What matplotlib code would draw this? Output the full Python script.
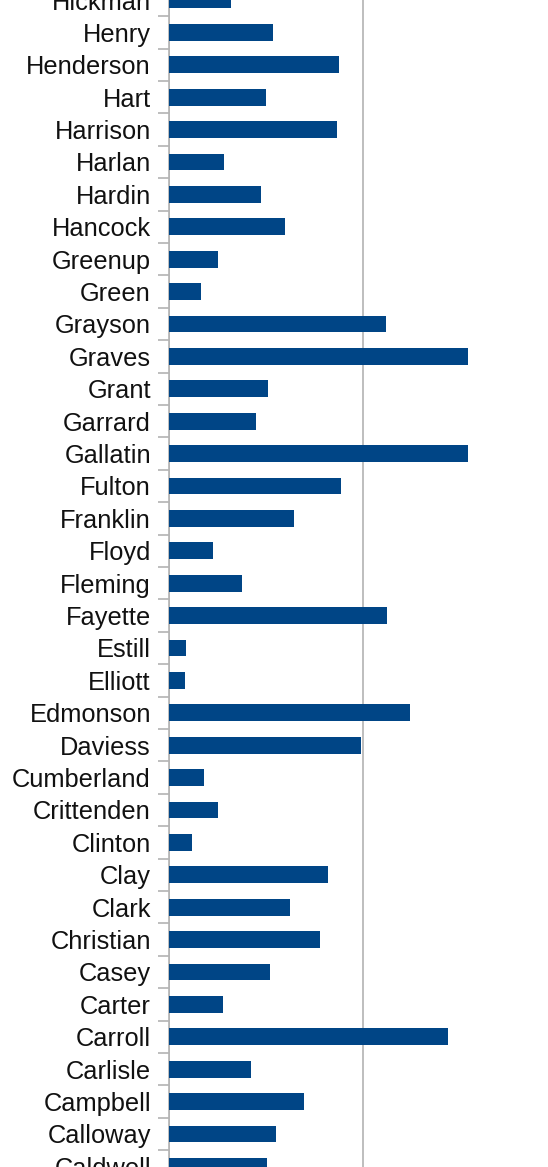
import matplotlib.pyplot as plt
import numpy as np

# Counties, top to bottom as shown (chart is cropped at both ends)
COUNTIES = [
    "Hickman", "Henry", "Henderson", "Hart", "Harrison", "Harlan", "Hardin",
    "Hancock", "Greenup", "Green", "Grayson", "Graves", "Grant", "Garrard",
    "Gallatin", "Fulton", "Franklin", "Floyd", "Fleming", "Fayette", "Estill",
    "Elliott", "Edmonson", "Daviess", "Cumberland", "Crittenden", "Clinton",
    "Clay", "Clark", "Christian", "Casey", "Carter", "Carroll", "Carlisle",
    "Campbell", "Calloway", "Caldwell",
]
VALUES = [
    3.2, 5.36, 8.76, 5.0, 8.66, 2.84, 4.74,
    5.98, 2.53, 1.65, 11.19, 15.41, 5.10, 4.48,
    15.41, 8.87, 6.44, 2.27, 3.76, 11.24, 0.88,
    0.82, 12.42, 9.90, 1.80, 2.53, 1.19,
    8.20, 6.24, 7.78, 5.21, 2.78, 14.38, 4.23,
    6.96, 5.52, 5.05,
]
GRID_STEP = 10

BAR_COLOR = "#004586"
GRID_COLOR = "#b3b3b3"

plt.rcParams["font.family"] = ["Liberation Sans", "DejaVu Sans"]

fig = plt.figure(figsize=(5.48, 11.67), dpi=100)
ax = fig.add_axes([169 / 548, 0, 1 - 169 / 548, 1])

pos = np.arange(len(COUNTIES))
ax.barh(pos, VALUES, height=0.52, color=BAR_COLOR, zorder=3)

ax.set_ylim(36.02, 0.077)
ax.set_xlim(0, 19.54)

ax.set_xticks(np.arange(0, 20, GRID_STEP))
ax.xaxis.grid(True, color=GRID_COLOR, linewidth=1.2, zorder=0)
ax.tick_params(axis="x", bottom=False, labelbottom=False)

ax.set_yticks(pos)
ax.set_yticklabels(COUNTIES, fontsize=18.3, color="#111111")
ax.set_yticks(pos[:-1] + 0.5, minor=True)
ax.tick_params(axis="y", which="major", length=0, pad=13)
ax.tick_params(axis="y", which="minor", length=8, width=1.2, color=GRID_COLOR)

for s in ["top", "right", "bottom"]:
    ax.spines[s].set_visible(False)
ax.spines["left"].set_color(GRID_COLOR)
ax.spines["left"].set_linewidth(1.2)

fig.savefig("out.png", dpi=100)
